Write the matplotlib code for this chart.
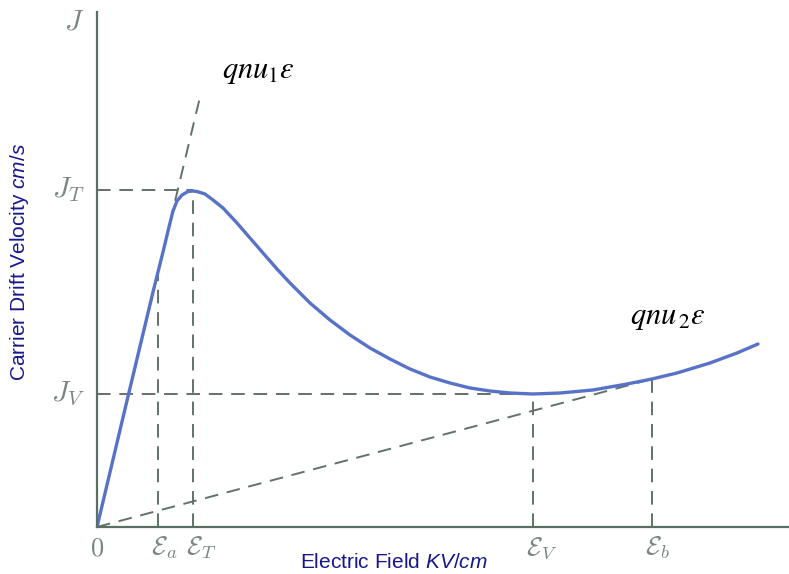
import matplotlib
matplotlib.use("Agg")
import matplotlib.pyplot as plt

# drift velocity curve (arbitrary units)
field = [0, 28, 56, 66, 72, 76, 80, 85, 91, 96, 100, 108, 116, 126, 140, 153,
         166, 180, 193, 213, 233, 253, 273, 293, 313, 333, 353, 373, 393,
         413, 436, 463, 496, 530, 555, 580, 613, 640, 661]
velocity = [0, 118, 235, 275, 300, 316, 326, 332, 335.5, 336, 335.5, 333, 327, 319, 304, 289,
            274, 258, 244, 224, 207, 192, 179, 168, 158, 150, 144, 139, 136,
            134, 133, 134, 137, 143, 148, 154, 164, 174, 183]

# marked points
E_a, E_T, E_V, E_b = 61, 96, 436, 555
J_T, J_V, J_top = 337, 133, 505
J_a, J_b = 255, 148
mu1_end = [103, 430]   # end of qnu1 line
mu2_end = [555, 148]   # end of qnu2 line

plt.rcParams['mathtext.fontset'] = 'custom'
plt.rcParams['mathtext.rm'] = 'Liberation Sans'
plt.rcParams['mathtext.it'] = 'Liberation Sans:italic'

axis_col = '#5b6e64'
dash_col = '#617269'
lbl_col = '#7a867f'
blue = '#5872c8'
navy = '#16168e'

fig = plt.figure(figsize=(7.89, 5.74), dpi=100)
ax = fig.add_axes([97/789, 47/574, 692/789, 515/574])
ax.set_xlim(0, 692)
ax.set_ylim(0, 515)
for s in ['top', 'right']:
    ax.spines[s].set_visible(False)
for s in ['left', 'bottom']:
    ax.spines[s].set_color(axis_col)
    ax.spines[s].set_linewidth(1.6)
ax.set_xticks([])
ax.set_yticks([])

dash = dict(color=dash_col, lw=1.4, ls=(0, (7, 4.5)))
ax.plot([0, mu1_end[0]], [0, mu1_end[1]], **dash)
ax.plot([0, mu2_end[0]], [0, mu2_end[1]], **dash)
ax.plot([0, E_T], [J_T, J_T], **dash)
ax.plot([0, E_V], [J_V, J_V], **dash)
ax.plot([E_a, E_a], [0, J_a], **dash)
ax.plot([E_T, E_T], [0, J_T], **dash)
ax.plot([E_V, E_V], [0, J_V], **dash)
ax.plot([E_b, E_b], [0, J_b], **dash)

ax.plot(field, velocity, color=blue, lw=2.4, solid_joinstyle='round', solid_capstyle='round')

# axis letters
ax.text(0, -21, '$0$', ha='center', va='center', fontsize=19, color=lbl_col,
        math_fontfamily='cm', clip_on=False)
for x, s in [(E_a, 'a'), (E_T, 'T'), (E_V, 'V'), (E_b, 'b')]:
    ax.text(x - 7, -21, r'$\mathcal{E}_{%s}$' % s, ha='left', va='center', fontsize=19,
            color=lbl_col, math_fontfamily='cm', clip_on=False)
for y, s in [(J_top, '$J$'), (J_T, '$J_T$'), (J_V, '$J_V$')]:
    ax.text(-12, y, s, ha='right', va='center', fontsize=21, color=lbl_col,
            math_fontfamily='cm', clip_on=False)

ax.text(161, 455, r'$qnu_1\varepsilon$', ha='center', va='center', fontsize=22,
        color='black', math_fontfamily='stix')
ax.text(571, 209, r'$qnu_{\,2}\varepsilon$', ha='center', va='center', fontsize=22,
        color='black', math_fontfamily='stix')

fig.text(394/789, 1 - 562/574, r'Electric Field $\mathit{KV/cm}$', ha='center', va='center',
         fontsize=15, color=navy, family='Liberation Sans')
fig.text(20/789, 1 - 262/574, r'Carrier Drift Velocity $\mathit{cm/s}$', ha='center', va='center',
         rotation=90, fontsize=15, color=navy, family='Liberation Sans')

fig.savefig('out.png', dpi=100)
